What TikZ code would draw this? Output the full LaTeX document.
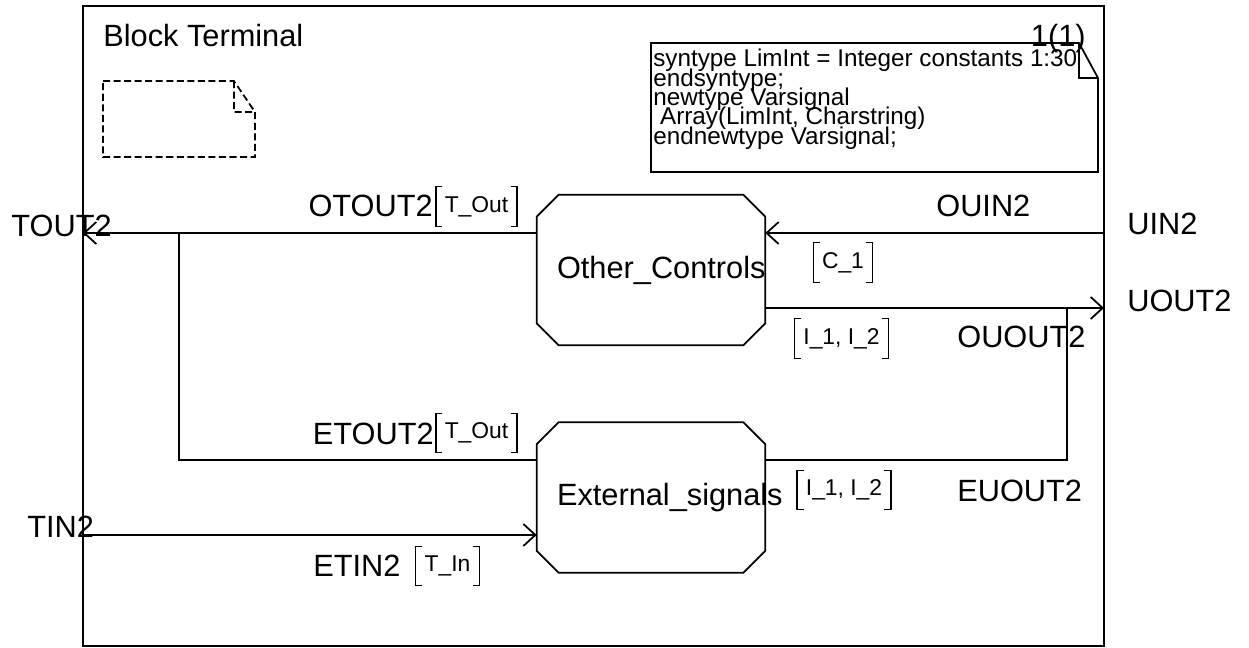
\documentclass[tikz,border=0pt]{standalone}
\usepackage{fontspec}
\setmainfont{Liberation Sans}
\usetikzlibrary{arrows.meta}
\hyphenpenalty=10000
\newcommand{\biglab}{\fontsize{17.5}{21}\selectfont}
\newcommand{\smalllab}{\fontsize{13}{15}\selectfont}
\newcommand{\decllab}{\fontsize{13.8}{11}\selectfont\lineskiplimit=-20pt\relax}
\tikzset{%
  sig/.style = {line width=1pt},
  sigarrow/.style = {line width=1pt,-{Straight Barb[length=0.24cm,width=0.44cm]}},
  blk/.style = {rectangle,minimum width=4.56cm,minimum height=3cm,inner xsep=0.4cm,
        inner ysep=0pt,text width=3.76cm,align=left,font=\biglab},
  lab/.style = {inner sep=0pt,font=\biglab},
  sl/.style = {inner xsep=0.17cm,inner ysep=0pt,minimum height=0.78cm,font=\smalllab},
  decl/.style = {inner sep=0pt,align=left,font=\decllab},
  brk/.style = {line width=0.7pt}
}
\begin{document}
\begin{tikzpicture}[x=0.02cm,y=-0.02cm]
\useasboundingbox (0,0) rectangle (1249,648);
\draw[sig] (83,6) rectangle (1104,646);
\node[lab,anchor=base west] (title) at (103,47) {Block Terminal};
\draw[sig,dash pattern=on 4pt off 2pt] (103,81) -- (234,81) -- (255,112) -- (255,157)
    -- (103,157) -- cycle (234,81) |- (255,112);
\draw[sig] (651,43) -- (1079,43) -- (1098,78) -- (1098,172) -- (651,172) -- cycle
    (1079,43) |- (1098,78);
\node[decl,anchor=north west] (decl) at (653,49) {syntype LimInt = Integer constants 1:30\\
    endsyntype;\\
    newtype Varsignal\\
    \hspace*{0.28em}Array(LimInt, Charstring)\\
    endnewtype Varsignal;};
\node[lab,anchor=base east] (page) at (1086,47) {1(1)};

\node[blk] (oc) at (651,270) {Other\_Controls};
\node[blk] (es) at (651,497.5) {External\_signals};
\foreach \b in {oc,es}
  \draw[sig] ([xshift=0.44cm]\b.north west) -- ([xshift=-0.44cm]\b.north east)
      -- ([yshift=-0.44cm]\b.north east) -- ([yshift=0.44cm]\b.south east)
      -- ([xshift=-0.44cm]\b.south east) -- ([xshift=0.44cm]\b.south west)
      -- ([yshift=0.44cm]\b.south west) -- ([yshift=-0.44cm]\b.north west) -- cycle;

\coordinate (tout) at (83,233);
\coordinate (tin) at (83,535);
\coordinate (uin) at (1104,233);
\coordinate (uout) at (1104,308);
\coordinate (jl) at (179,233);
\coordinate (el) at (179,460);
\coordinate (jr) at (1067,308);
\coordinate (er) at (1067,460);

\draw[sigarrow] (oc.west |- tout) -- (tout);
\draw[sig] (es.west |- el) -- (el) -- (jl);
\draw[sigarrow] (tin) -- (es.west |- tin);
\draw[sigarrow] (uin) -- (oc.east |- uin);
\draw[sigarrow] (oc.east |- uout) -- (uout);
\draw[sig] (es.east |- er) -- (er) -- (jr);

\node[lab,anchor=base east] (ntout) at (112,237) {TOUT2};
\node[lab,anchor=base east] (notout) at (433,217) {OTOUT2};
\node[lab,anchor=base west] (nouin) at (936,217) {OUIN2};
\node[lab,anchor=base west] (nuin) at (1127,235) {UIN2};
\node[lab,anchor=base west] (nuout) at (1127,312) {UOUT2};
\node[lab,anchor=base west] (nouout) at (957,348) {OUOUT2};
\node[lab,anchor=base east] (netout) at (434,445) {ETOUT2};
\node[lab,anchor=base west] (neuout) at (957,502) {EUOUT2};
\node[lab,anchor=base west] (ntin) at (27,538) {TIN2};
\node[lab,anchor=base west] (netin) at (313,577) {ETIN2};

\node[sl] (b1) at (476.5,206.5) {T\_Out};
\node[sl] (b2) at (843,262.5) {C\_1};
\node[sl] (b3) at (841.5,338.5) {I\_1, I\_2};
\node[sl] (b4) at (476.5,433) {T\_Out};
\node[sl] (b5) at (844,490) {I\_1, I\_2};
\node[sl] (b6) at (447.5,566) {T\_In};
\foreach \b in {b1,b2,b3,b4,b5,b6}
  \draw[brk] ([xshift=0.13cm]\b.north west) -- (\b.north west) -- (\b.south west)
      -- ([xshift=0.13cm]\b.south west)
      ([xshift=-0.13cm]\b.north east) -- (\b.north east) -- (\b.south east)
      -- ([xshift=-0.13cm]\b.south east);
\end{tikzpicture}
\end{document}
